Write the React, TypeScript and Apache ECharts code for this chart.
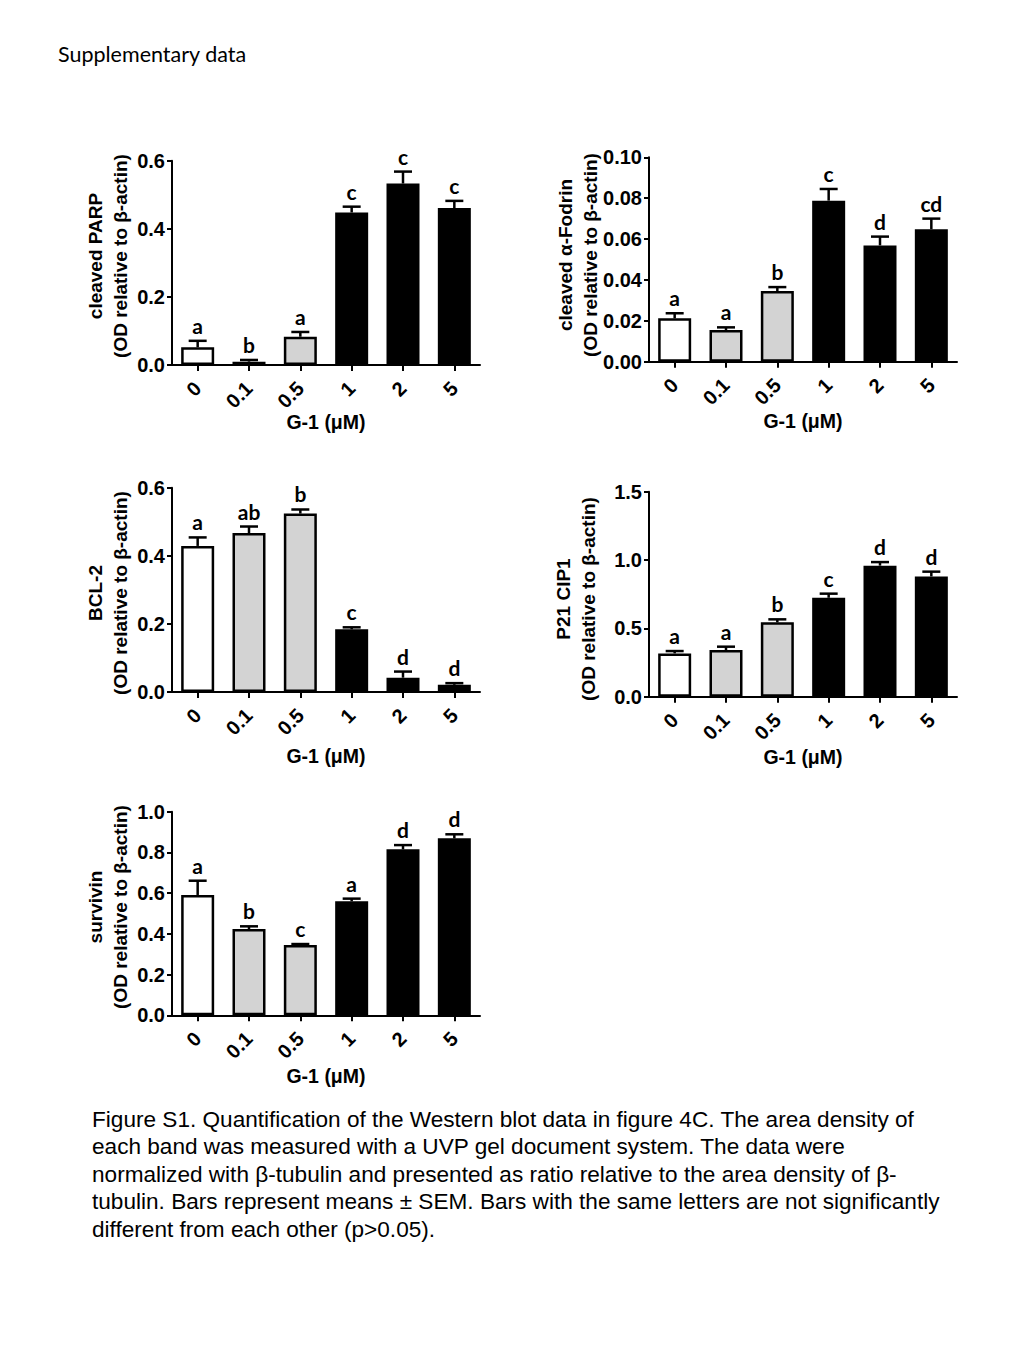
import React, { useEffect, useRef } from "react";
import * as echarts from "echarts";

// ---- data ----
const categories = ["0", "0.1", "0.5", "1", "2", "5"];
const barFills = ["#ffffff", "#d3d3d3", "#d3d3d3", "#000000", "#000000", "#000000"];

const parpMeans = [0.052, 0.0098, 0.083, 0.448, 0.533, 0.461];
const parpSem = [0.019, 0.005, 0.014, 0.017, 0.035, 0.021];
const parpLetters = ["a", "b", "a", "c", "c", "c"];

const fodrinMeans = [0.0212, 0.0155, 0.0346, 0.0788, 0.0569, 0.0648];
const fodrinSem = [0.0025, 0.0013, 0.0019, 0.0057, 0.0043, 0.0052];
const fodrinLetters = ["a", "a", "b", "c", "d", "cd"];

const bcl2Means = [0.429, 0.467, 0.524, 0.184, 0.042, 0.021];
const bcl2Sem = [0.025, 0.019, 0.012, 0.006, 0.018, 0.005];
const bcl2Letters = ["a", "ab", "b", "c", "d", "d"];

const p21Means = [0.317, 0.341, 0.544, 0.724, 0.959, 0.88];
const p21Sem = [0.017, 0.025, 0.022, 0.03, 0.026, 0.035];
const p21Letters = ["a", "a", "b", "c", "d", "d"];

const survivinMeans = [0.591, 0.424, 0.345, 0.56, 0.815, 0.869];
const survivinSem = [0.07, 0.013, 0.005, 0.013, 0.021, 0.02];
const survivinLetters = ["a", "b", "c", "a", "d", "d"];

const yMaxes = [0.6, 0.1, 0.6, 1.5, 1.0];
const yIntervals = [0.2, 0.02, 0.2, 0.5, 0.2];
const yDecimals = [1, 2, 1, 1, 1];

const yNames = ["cleaved PARP", "cleaved α-Fodrin", "BCL-2", "P21 CIP1", "survivin"];
const yNameSub = "(OD relative to β-actin)";
const xTitle = "G-1 (μM)";

const headerText = "Supplementary data";
const captionLines = [
  "Figure S1. Quantification of the Western blot data in figure 4C. The area density of",
  "each band was measured with a UVP gel document system. The data were",
  "normalized with β-tubulin and presented as ratio relative to the area density of β-",
  "tubulin. Bars represent means ± SEM. Bars with the same letters are not significantly",
  "different from each other (p>0.05).",
];

// ---- layout ----
const layouts = [
  { left: 172, top: 160.7, width: 308, height: 204.3, nameX: 107.5, nameY: 256, titleY: 422 },
  { left: 649, top: 157.3, width: 308, height: 204.4, nameX: 577.5, nameY: 255, titleY: 421 },
  { left: 172, top: 487.7, width: 308, height: 204.3, nameX: 107.5, nameY: 593, titleY: 756 },
  { left: 649, top: 491.7, width: 308, height: 205, nameX: 576, nameY: 599, titleY: 757 },
  { left: 172, top: 811.7, width: 308, height: 203.6, nameX: 107.5, nameY: 907, titleY: 1076 },
];

const AXIS_FONT = "'Liberation Sans', Arial, sans-serif";
const LETTER_FONT = "Lato, 'Open Sans', sans-serif";

export default function App() {
  const ref = useRef<HTMLDivElement>(null);

  useEffect(() => {
    if (!ref.current) return;
    const chart = echarts.init(ref.current, undefined, { renderer: "svg" });

    const panelData = [
      { means: parpMeans, sem: parpSem, letters: parpLetters },
      { means: fodrinMeans, sem: fodrinSem, letters: fodrinLetters },
      { means: bcl2Means, sem: bcl2Sem, letters: bcl2Letters },
      { means: p21Means, sem: p21Sem, letters: p21Letters },
      { means: survivinMeans, sem: survivinSem, letters: survivinLetters },
    ];

    const grids: any[] = [];
    const xAxes: any[] = [];
    const yAxes: any[] = [];
    const series: any[] = [];
    const graphics: any[] = [];

    panelData.forEach((p, i) => {
      const L = layouts[i];
      grids.push({ left: L.left, top: L.top, width: L.width, height: L.height, containLabel: false });
      xAxes.push({
        type: "category",
        gridIndex: i,
        data: categories,
        axisLine: { show: true, lineStyle: { color: "#000", width: 2 } },
        axisTick: { show: true, alignWithLabel: true, length: 6, lineStyle: { color: "#000", width: 2 } },
        axisLabel: {
          rotate: 45,
          margin: 20,
          color: "#000",
          fontFamily: AXIS_FONT,
          fontWeight: "bold",
          fontSize: 20,
        },
        splitLine: { show: false },
      });
      const dec = yDecimals[i];
      yAxes.push({
        type: "value",
        gridIndex: i,
        min: 0,
        max: yMaxes[i],
        interval: yIntervals[i],
        axisLine: { show: true, lineStyle: { color: "#000", width: 2 } },
        axisTick: { show: true, length: 5, lineStyle: { color: "#000", width: 2 } },
        axisLabel: {
          margin: 7,
          color: "#000",
          fontFamily: AXIS_FONT,
          fontWeight: "bold",
          fontSize: 20,
          formatter: (v: number) => v.toFixed(dec),
        },
        splitLine: { show: false },
      });
      series.push({
        type: "bar",
        xAxisIndex: i,
        yAxisIndex: i,
        barWidth: 33,
        itemStyle: { borderColor: "#000", borderWidth: 2.5 },
        data: p.means.map((m, k) => ({ value: m, itemStyle: { color: barFills[k] } })),
        z: 2,
      });
      const letters = p.letters;
      series.push({
        type: "custom",
        xAxisIndex: i,
        yAxisIndex: i,
        encode: { x: 0, y: 2 },
        z: 3,
        data: p.means.map((m, k) => [k, m, m + p.sem[k]]),
        renderItem: (params: any, api: any) => {
          const k = api.value(0);
          const base = api.coord([k, api.value(1)]);
          const top = api.coord([k, api.value(2)]);
          const half = 9;
          return {
            type: "group",
            children: [
              {
                type: "line",
                shape: { x1: top[0], y1: base[1], x2: top[0], y2: top[1] },
                style: { stroke: "#000", lineWidth: 2.5 },
              },
              {
                type: "line",
                shape: { x1: top[0] - half, y1: top[1], x2: top[0] + half, y2: top[1] },
                style: { stroke: "#000", lineWidth: 2.5 },
              },
              {
                type: "text",
                x: top[0],
                y: top[1] - 5,
                style: {
                  text: letters[params.dataIndex],
                  fontFamily: LETTER_FONT,
                  fontWeight: "bold",
                  fontSize: 21,
                  align: "center",
                  verticalAlign: "bottom",
                  fill: "#000",
                },
              },
            ],
          };
        },
      });
      graphics.push({
        type: "text",
        x: L.nameX,
        y: L.nameY,
        rotation: Math.PI / 2,
        style: {
          text: yNames[i] + "\n" + yNameSub,
          fontFamily: AXIS_FONT,
          fontWeight: "bold",
          fontSize: 19,
          lineHeight: 25,
          align: "center",
          verticalAlign: "middle",
          fill: "#000",
        },
      });
      graphics.push({
        type: "text",
        x: L.left + L.width / 2,
        y: L.titleY,
        style: {
          text: xTitle,
          fontFamily: AXIS_FONT,
          fontWeight: "bold",
          fontSize: 19.5,
          align: "center",
          verticalAlign: "middle",
          fill: "#000",
        },
      });
    });

    graphics.push({
      type: "text",
      x: 58,
      y: 54,
      style: {
        text: headerText,
        fontFamily: LETTER_FONT,
        fontSize: 21.5,
        align: "left",
        verticalAlign: "middle",
        fill: "#000",
      },
    });
    const captionYs = [1119, 1146.5, 1174, 1201.5, 1229];
    captionLines.forEach((line, j) => {
      graphics.push({
        type: "text",
        x: 92,
        y: captionYs[j],
        style: {
          text: line,
          fontFamily: AXIS_FONT,
          fontSize: 22.6,
          align: "left",
          verticalAlign: "middle",
          fill: "#000",
        },
      });
    });

    chart.setOption({
      animation: false,
      backgroundColor: "#ffffff",
      grid: grids,
      xAxis: xAxes,
      yAxis: yAxes,
      series,
      graphic: graphics,
    });

    return () => {
      chart.dispose();
    };
  }, []);

  return (
    <div
      ref={ref}
      style={{ position: "absolute", left: 0, top: 0, width: 1024, height: 1365, background: "#fff" }}
    />
  );
}
